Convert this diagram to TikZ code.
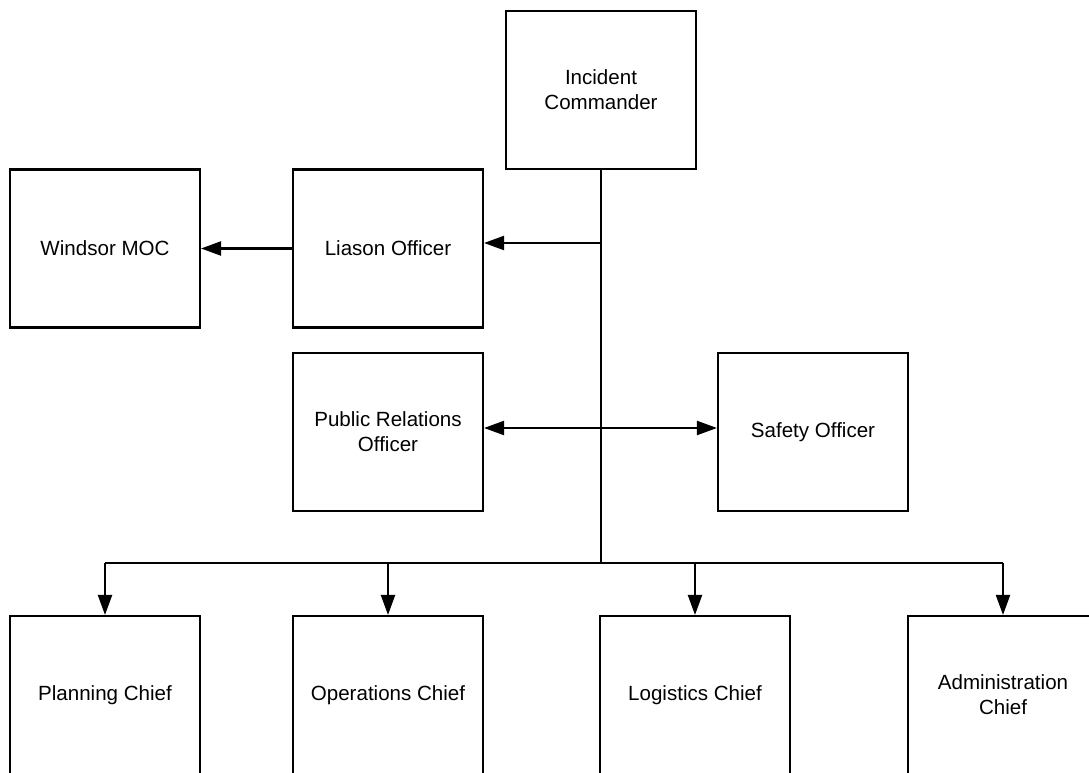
\documentclass[tikz,border=0pt]{standalone}
\usepackage{fontspec}
\setmainfont{Liberation Sans}
\usetikzlibrary{arrows.meta}
\tikzset{basic/.style={draw,line width=1.2pt,align=center,
                       minimum width=3.8cm,minimum height=3.16cm,
                       font=\fontsize{11.7}{14.2}\selectfont}}
\tikzset{role/.style={basic,rectangle}}
\tikzset{wire/.style={line width=1.2pt}}

\begin{document}
\begin{tikzpicture}[x=0.02cm,y=-0.02cm,>={Triangle[length=0.4cm,width=0.28cm]}]
    \clip (0,0) rectangle (1089,773);
    \node[role] (ic) at (601,90) {Incident\\Commander};
    \node[role] (moc) at (105,248.5) {Windsor MOC};
    \node[role] (liason) at (388,248.5) {Liason Officer};
    \node[role] (pr) at (388,432) {Public Relations\\Officer};
    \node[role] (safety) at (813,432) {Safety Officer};
    \foreach \h/\x [count=\hi] in {Planning Chief/105,Operations Chief/388,
                                  Logistics Chief/695,{Administration\\Chief}/1003}{%
          \node[role] (c\hi) at (\x,695) {\h};
        }
    % Connectors
    \coordinate (tap) at (601,243);
    \coordinate (split) at (601,563);
    \draw[wire] (ic) -- (split);
    \draw[wire,->] (tap) -- (tap -| liason.east);
    \draw[wire,->] (liason) -- (moc);
    \draw[wire,<->] (pr.east |- 0,428) -- (safety.west |- 0,428);
    \draw[wire] (c1.north |- split) -- (c4.north |- split);
    \foreach \hi in {1,...,4}{%
          \draw[wire,->] (c\hi.north |- split) -- (c\hi);
        }
\end{tikzpicture}
\end{document}
